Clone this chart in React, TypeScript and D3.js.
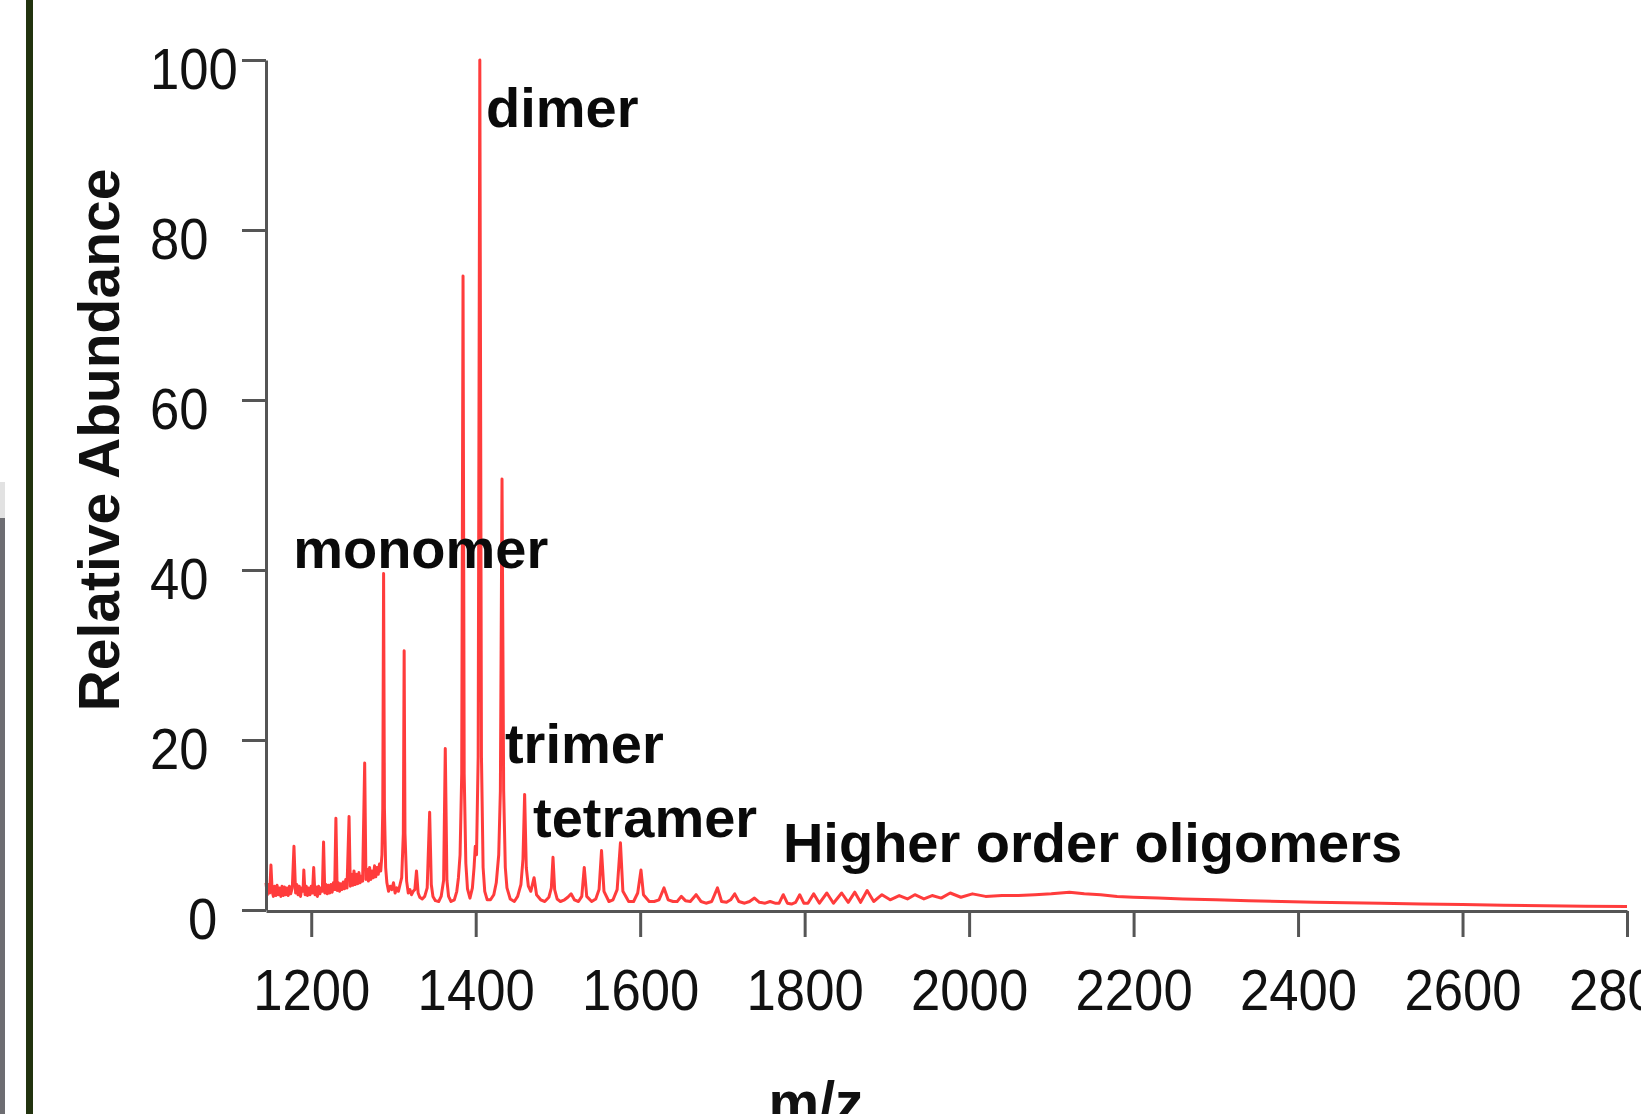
import React, { useRef, useEffect } from "react";
import * as d3 from "d3";

// spectrum points [m/z, relative abundance]
const lowMassRegion: [number, number][] = [
  [1145, 3.2], [1146.5, 1.8], [1148, 3.0], [1149.5, 2.0], [1151, 5.3], [1152.5, 2.2],
  [1154, 1.6], [1155.5, 2.8], [1157, 1.7], [1158.5, 2.9], [1160, 1.8], [1161.5, 2.6],
  [1163, 1.6], [1164.5, 2.8], [1166, 1.7], [1167.5, 2.7], [1169, 1.8], [1170.5, 2.6],
  [1172, 1.7], [1173.5, 2.8], [1175, 1.9], [1177, 2.6], [1179, 7.5], [1181, 2.0],
  [1182.5, 3.0], [1184, 1.8], [1185.5, 2.8], [1187, 1.6], [1188.5, 2.6], [1190, 2.2],
  [1191, 4.7], [1192.5, 1.8], [1194, 2.8], [1195.5, 1.7], [1197, 2.6], [1198.5, 1.8],
  [1200, 2.8], [1201.5, 2.0], [1203, 5.0], [1204.5, 1.8], [1206, 2.7], [1207.5, 1.6],
  [1209, 2.8], [1210.5, 1.9], [1212, 2.6], [1213.5, 2.2], [1215, 8.0], [1216.5, 2.0],
  [1218, 3.0], [1219.5, 1.9], [1221, 2.9], [1222.5, 2.0], [1224, 3.0], [1225.5, 2.1],
  [1227, 3.2], [1228.5, 2.4], [1230, 10.8], [1231.5, 2.3], [1233, 3.2], [1234.5, 2.2],
  [1236, 3.1], [1237.5, 2.4], [1239, 3.3], [1240.5, 2.5], [1242, 3.6], [1243.5, 2.6],
  [1246, 11.0], [1247.5, 2.8], [1249, 4.2], [1250.5, 2.9], [1252, 4.6], [1253.5, 3.0],
  [1255, 4.2], [1256.5, 3.1], [1258, 4.4], [1259.5, 3.2], [1261, 4.0], [1262.5, 3.4],
  [1265, 17.3], [1266.5, 3.6], [1268, 4.8], [1269.5, 3.4], [1271, 5.0], [1272.5, 3.6],
  [1274, 4.6], [1275.5, 3.8], [1277, 5.2], [1278.5, 3.9], [1280, 5.0], [1281.5, 4.2],
  [1283, 5.4], [1284.5, 4.6], [1286, 6.5], [1287, 12.0], [1288, 39.6], [1289, 12.0],
  [1290.5, 5.0], [1292, 3.2], [1294, 2.2], [1296, 2.8], [1298, 2.4], [1300, 3.2],
  [1302, 2.0], [1304, 2.6], [1306, 2.2], [1308, 3.0], [1310, 3.8], [1312, 9.0],
  [1313, 30.5], [1314, 9.0], [1316, 3.4], [1318, 2.0], [1320, 2.4], [1322, 1.8],
  [1324, 2.2], [1326, 2.4], [1328, 4.6], [1330, 2.0], [1332, 1.5], [1335, 1.3],
  [1338, 1.6], [1341, 2.6], [1344, 11.5], [1346, 3.0], [1348, 1.6], [1351, 1.1],
  [1355, 1.0], [1358, 1.6], [1361, 3.5], [1363, 19.0], [1365, 3.5], [1367, 1.6],
  [1370, 1.0], [1374, 1.2], [1377, 2.2], [1379, 3.8],
];

const dimerRegion: [number, number][] = [
  [1381, 6.5], [1383, 16.0], [1384.6, 74.6], [1386, 16.0], [1388, 5.5], [1390, 2.5],
  [1393, 1.4], [1396, 2.6], [1398, 5.0], [1399.5, 7.5], [1401, 6.5], [1403, 18.0],
  [1405, 100], [1407, 18.0], [1409, 5.0], [1411, 2.2], [1414, 1.2], [1418, 1.2],
  [1422, 1.8], [1425, 3.2], [1428, 6.5], [1430, 14.0], [1432, 50.7], [1434, 14.0],
  [1436, 5.0], [1438, 2.6],
];

const trimerTetramerRegion: [number, number][] = [
  [1442, 1.3], [1447, 1.0], [1451, 1.6], [1455, 3.0], [1457.5, 6.0], [1459.5, 13.6],
  [1461.5, 5.0], [1464, 2.8], [1467, 2.2], [1471, 3.8], [1474, 1.8], [1479, 1.2],
  [1484, 1.0], [1489, 1.5], [1492, 2.6], [1494, 6.2], [1496, 2.4], [1499, 1.3],
  [1503, 1.0], [1508, 1.2], [1512, 1.5], [1516, 1.9], [1520, 1.2], [1525, 1.0],
  [1529, 1.6], [1532, 5.0], [1535, 1.6], [1541, 1.0], [1546, 1.3], [1550, 2.4],
  [1553, 7.0], [1556, 2.2], [1562, 1.0], [1567, 1.2], [1572, 2.4], [1576, 7.9],
  [1579, 2.2], [1586, 1.0], [1592, 1.0], [1597, 2.0], [1601, 4.7], [1604, 1.8],
  [1611, 1.0], [1617, 1.0], [1623, 1.2], [1629, 2.6], [1634, 1.2], [1640, 1.0],
  [1645, 1.0], [1650, 1.6], [1655, 1.1], [1661, 1.0], [1668, 1.8], [1674, 1.0],
  [1680, 0.8], [1687, 1.0], [1694, 2.6], [1699, 1.0], [1705, 0.9], [1710, 1.2],
  [1715, 1.9], [1720, 1.0], [1727, 0.8], [1733, 1.0], [1739, 1.4], [1745, 0.9],
  [1752, 0.8], [1758, 1.0], [1764, 0.8],
];

const higherOrderRegion: [number, number][] = [
  [1769, 0.8], [1774, 1.8], [1779, 0.8], [1784, 0.7], [1789, 0.9], [1794, 1.8],
  [1799, 0.8], [1804, 0.8], [1811, 1.9], [1818, 0.8], [1827, 2.0], [1835, 0.8],
  [1845, 2.0], [1853, 0.9], [1861, 2.1], [1868, 0.9], [1876, 2.3], [1884, 1.0],
  [1894, 1.8], [1904, 1.2], [1915, 1.7], [1925, 1.3], [1934, 1.8], [1945, 1.3],
  [1955, 1.7], [1966, 1.4], [1977, 2.0], [1990, 1.5], [2004, 1.9], [2020, 1.6],
  [2040, 1.7], [2060, 1.7], [2080, 1.8], [2100, 1.9], [2122, 2.1], [2140, 1.9],
  [2160, 1.8], [2180, 1.6], [2200, 1.5], [2230, 1.4], [2260, 1.3], [2300, 1.2],
  [2340, 1.1], [2380, 1.0], [2420, 0.9], [2460, 0.85], [2500, 0.8], [2550, 0.7],
  [2600, 0.65], [2650, 0.55], [2700, 0.5], [2750, 0.45], [2800, 0.4],
];

const xTicks = [1200, 1400, 1600, 1800, 2000, 2200, 2400, 2600, 2800];
const yTicks = [0, 20, 40, 60, 80, 100];

// annotation text, anchored at (m/z, abundance) of its left baseline
const peakLabels = [
  { text: "dimer", mz: 1412.5, value: 92.1 },
  { text: "monomer", mz: 1178, value: 40.2 },
  { text: "trimer", mz: 1435.6, value: 17.3 },
  { text: "tetramer", mz: 1469.7, value: 8.6 },
  { text: "Higher order oligomers", mz: 1773.6, value: 5.6 },
];

const W = 1641;
const H = 1114;
const FONT = "'Liberation Sans', Arial, Helvetica, sans-serif";

export default function App() {
  const svgRef = useRef<SVGSVGElement>(null);

  useEffect(() => {
    const svg = d3.select(svgRef.current);
    svg.selectAll("*").remove();

    const spectrum = [
      ...lowMassRegion,
      ...dimerRegion,
      ...trimerTetramerRegion,
      ...higherOrderRegion,
    ];

    const x = d3.scaleLinear().domain([1145, 2800]).range([266, 1627]);
    const y = d3.scaleLinear().domain([0, 100]).range([910, 60]);

    // frame decorations at the left edge of the screenshot
    svg.append("rect").attr("x", 0).attr("y", 0).attr("width", W).attr("height", H).attr("fill", "#fff");
    svg.append("rect").attr("x", 26).attr("y", 0).attr("width", 7).attr("height", H).attr("fill", "#22330f");
    svg.append("rect").attr("x", 0).attr("y", 482).attr("width", 5).attr("height", 36).attr("fill", "#e2e2e2");
    svg.append("rect").attr("x", 0).attr("y", 518).attr("width", 5).attr("height", H - 518).attr("fill", "#6d6d72");

    // spectrum
    const line = d3
      .line<[number, number]>()
      .x((d) => x(d[0]))
      .y((d) => y(d[1]));

    svg
      .append("path")
      .datum(spectrum)
      .attr("d", line)
      .attr("fill", "none")
      .attr("stroke", "#ff1a1a")
      .attr("stroke-width", 3)
      .attr("stroke-linejoin", "round")
      .attr("opacity", 0.85);

    // y axis
    const yAxis = svg.append("g").attr("transform", "translate(266,0)");
    yAxis.call(d3.axisLeft(y).tickValues(yTicks).tickSize(24).tickPadding(0).tickSizeOuter(0));
    yAxis.select(".domain").attr("stroke", "#555").attr("stroke-width", 3);
    yAxis.selectAll(".tick line").attr("stroke", "#555").attr("stroke-width", 3);
    yAxis
      .selectAll<SVGTextElement, number>(".tick text")
      .attr("x", (d) => (d === 0 ? -78 : -116))
      .attr("dy", 28)
      .attr("text-anchor", "start")
      .attr("fill", "#111")
      .style("font-family", FONT)
      .style("font-size", "57px")
      .attr("textLength", (d) => String(d).length * 29.3)
      .attr("lengthAdjust", "spacingAndGlyphs");

    // x axis
    const xAxis = svg.append("g").attr("transform", `translate(0,${y(0) + 1})`);
    xAxis.call(d3.axisBottom(x).tickValues(xTicks).tickSize(26).tickPadding(0).tickSizeOuter(0).tickFormat(d3.format("d")));
    xAxis.select(".domain").attr("stroke", "#555").attr("stroke-width", 3);
    xAxis.selectAll(".tick line").attr("stroke", "#555").attr("stroke-width", 3);
    xAxis
      .selectAll<SVGTextElement, number>(".tick text")
      .attr("y", 99)
      .attr("dy", 0)
      .attr("fill", "#111")
      .style("font-family", FONT)
      .style("font-size", "57px")
      .attr("textLength", (d) => String(d).length * 29.3)
      .attr("lengthAdjust", "spacingAndGlyphs");

    // axis titles
    svg
      .append("text")
      .attr("transform", "translate(119,440) rotate(-90)")
      .attr("text-anchor", "middle")
      .style("font-family", FONT)
      .style("font-size", "57px")
      .style("font-weight", "bold")
      .attr("fill", "#111")
      .text("Relative Abundance");

    svg
      .append("text")
      .attr("x", 816)
      .attr("y", 1122)
      .attr("text-anchor", "middle")
      .style("font-family", FONT)
      .style("font-size", "57px")
      .style("font-weight", "bold")
      .attr("fill", "#111")
      .text("m/z");

    // peak annotations
    svg
      .selectAll("text.peak")
      .data(peakLabels)
      .enter()
      .append("text")
      .attr("class", "peak")
      .attr("x", (d) => x(d.mz))
      .attr("y", (d) => y(d.value))
      .style("font-family", FONT)
      .style("font-size", "56px")
      .style("font-weight", "bold")
      .attr("fill", "#0a0a0a")
      .text((d) => d.text);
  }, []);

  return (
    <div style={{ position: "absolute", left: 0, top: 0 }}>
      <svg ref={svgRef} width={W} height={H} style={{ display: "block" }} />
    </div>
  );
}
